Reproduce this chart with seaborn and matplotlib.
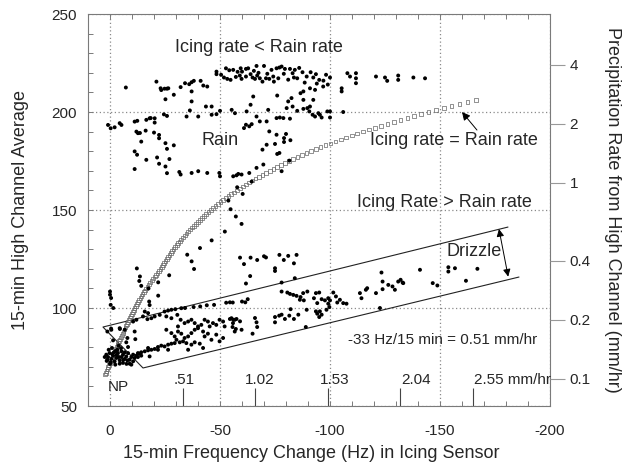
import matplotlib
matplotlib.use("Agg")
import matplotlib.pyplot as plt
import seaborn as sns
import pandas as pd
from matplotlib.ticker import MultipleLocator, FixedLocator, NullLocator

# ---------------- data ----------------
# observed 15-min points (frequency change Hz, high-channel average)
dots_hz = [
    -48.4, -48.4, -52.7, -54.2, -56, -59.4, -60, -61.8, -62.8, -65.4, -66.6, -70, -73.4, -75.7,
    -51.8, -53.3, -54.8, -57.2, -59, -59.8, -61.8, -63.9, -64.8, -65.9, -66.9, -68.1, -69.3, -70.9,
    -72.4, -74.5, -77, -78, -79.5, -81.8, -84, -74.2, -76.5, -83, -83.6, -85.1, -87.5, -89.4, -91.2,
    -92.4, -93.6, -95.1, -96.9, -98.2, -100, -76, -81, -82.5, -83, -80.3, -85.1, -86.6, -87.9, -87.9,
    -90.9, -92.4, -93.2, -90.9, -87.9, -89.7, -90.6, -92.1, -93.2, -94.7, -95.4, -96.2, -98.8, -100,
    -100, -105.3, -105.3, -106, -107.9, -109.1, -111.8, -111.8, -111.8, -120.9, -125, -126, -131, -131,
    -137.9, -143.2, -78.8, -81.8, -75.7, -77.2, -50.5, -58, -67.5, -71.5, -86, -88.5, -97, -79, -81,
    -94, -99,
    -7.2, 0.9, -0.3, -2.1, -4.4, -5.2, -11.2, -12.4, -12, -12.7, -14.2, -11.2, -12.3, -16.5, -11.2,
    -16.2, -16.5, -18, -20.3, -20.3, -20, -22.3, -22.3, -25.2, -25.9, -21.4, -22.3, -25.2, -25.9,
    -24.5, -25.9, -21.1, -23, -23.3, -24.8, -25.9, -25.2, -27, -13.6, -18.5,
    -26.5, -29, -32.1, -34.1, -36, -37.1, -38.1, -41.2, -42.4, -44.2, -37.1, -37.1, -43.6, -46.2,
    -36.3, -34.8, -40.1, -46.2, -48.4, -50, -55.3, -56.8, -62.1, -63.9, -65.1, -71.9, -66.6, -68.1,
    -71.2, -61.8, -60.9, -63.3, -64.4,
    -72.4, -75.7, -80, -79.1, -79.1, -75, -71.2, -69.3, -76, -77, -81.5, -69.7, -78, -82,
    -29, -31.5, -32.1, -37.1, -40.1, -44.2, -49.7, -50, -56, -57.5, -58.3, -59.8, -63.3, -66.6,
    -57.8, -64.4, -60.3, -53.8, -54.8, -57.2, -59.8, -52.2, -46.2, -40.9, -35.1, -37.1, -38.2,
    -26.9, -21.9, -12.2, -13.3, -14.2, -13.6, -17.5, -21.9, -17.8, -18, -15.8, -17.3,
    0, 0, -0.5, -0.3, -1.5,
    -59.1, -60.9, -63.9, -66.9, -70, -70.9, -75, -75, -77, -63.7, -61.8, -79, -81, -83.6, -84.8,
    -78, -84,
    -34.1, -38, -41, -44, -47.3, -52.8, -54.5, -55.8, -60, -61.5, -62.6,
    1.2, -0.6, -4.4, -1.4, -6.7, -10.5, -11.2, -12, -15, -17, -18.8, -20.3, -22.6, -24.8, -26.4,
    -27.9, -29.7, -32.4, -7.9, -7.4, -8.2, -11.5,
    -25.6, -27.9, -30.6, -32.1, -33.9, -35.5, -37, -38.5, -40, -41.5, -43, -44.5, -45.3, -46.8,
    -48.3, -49.8, -51.4, -52.1, -55.2, -55.9, -56.7, -56.7, -27.9, -29.4, -30.9, -32.4, -33.9,
    -35.5, -37, -38.5, -40, -42.3, -43, -44.5, -46.1, -48.3, -49.8, -51.4, -30.9, -25.6,
    -12.7, -14.2, -15.8, -17.3, -18.8, -20.3, -21.8, -23.3, -24.8, -26.4, -27.9, -29.4, -30.2,
    -31.7, -33.2, -34.7, -37, -38.5, -40.8, -42.3, -35.5, -21.8, -26.4, -17.3, -18,
    1.7, 0.9, 0.2, -0.6, -1.4, -2.1, -2.9, -3.6, -4.4, -5.2, -5.9, -6.7, -7.4, -8.2, -8.9, -9.7,
    -10.5, -11.2, 1.2, -0.3, -1.8, -3.3, -3.9, -5.2, -6.7, -7.9, -8.9, -9.7, 0.6, -0.9, -2.4,
    -4.4, -5.9, -10.5, -12, -12.7, -13.5, -14.2, 2.4, 1.5, 0, -1, -3, -4, -6, -2.5, -5, -7.5,
    -0.5, -4.5,
    -78, -80.6, -81.8, -83.3, -84.8, -86.6, -87.8, -89.7, -86.3, -88.1, -93.6, -95.1, -92.7,
    -94.2, -96.2, -97.7, -99.2, -100, -101.5, -102.7, -103.3, -104.5, -106, -107.5, -113.6,
    -114.3, -116.3, -116.9, -120.9, -123.4, -123.9, -123.9, -126.5, -128.4, -129.5, -131,
    -132.1, -133, -133.3,
    -54.5, -56, -57.5, -59.1, -55.7, -57.2, -59.8, -65.9, -66.6, -66.9, -64.8, -75, -75, -76.9,
    -78, -79.5, -81.5, -82.1, -83.6, -85.6, -89, -89.4, -93.6, -94.2, -95.1, -96.2, -95.4, -98.4,
    -99.7, -99.2, -122.7,
    -140.9, -146.7, -148.8, -153.8, -153.8, -156.8, -161.8, -167,
]
dots_h = [
    220.6, 219.3, 222.3, 221.3, 221.5, 222.3, 220.6, 222, 222.3, 221, 223.5, 223.5, 221.5, 222.3,
    217.6, 216.9, 216.4, 217.9, 218.6, 216.9, 218.1, 219.3, 217.6, 216.9, 218.6, 217.2, 215.5, 217.2,
    216.9, 215.5, 222.7, 223.2, 222, 222, 221.5, 218.1, 217.2, 219.8, 217.6, 217.2, 220.3, 218.1, 220.3,
    217.6, 219.3, 216.4, 213, 219, 217.6, 208.4, 205.4, 207.1, 202.8, 202, 200.6, 209.6, 210.5, 206.2,
    212.1, 206.2, 211.3, 202.8, 201.6, 202, 200.3, 198.6, 197.7, 199.4, 198.6, 197.2, 200.3, 200.3,
    197.2, 212.1, 210.5, 200, 219.8, 218.1, 219.8, 217.2, 214.7, 218.1, 217.6, 215.9, 218.6, 216.4,
    217.6, 217.2, 196.9, 196.6, 196.9, 197.2, 219, 220.5, 220, 219.5, 222.5, 215, 216, 219.5, 216.5,
    214.5, 214,
    212.5, 193.4, 191.7, 192.2, 194.3, 193.4, 195.1, 195.5, 190, 189.2, 184.9, 179.9, 178.2, 175.6, 170.9,
    190.5, 196, 196.8, 196.8, 194.6, 189.5, 188.3, 186.6, 184.1, 181.2, 176.8, 173.6, 172.2, 168.8,
    198.8, 198, 215.5, 212.1, 211.2, 211.9, 211.9, 206.5, 176, 189.3, 196.9,
    212.1, 208.8, 212.7, 214.7, 214.2, 215.2, 215.9, 215.9, 213.5, 213, 210.5, 205.4, 202.8, 202.8,
    200.8, 197.7, 197.7, 198.6, 198.9, 200.6, 201.1, 199.4, 200.3, 203.7, 207.9, 201.1, 197.7, 195.2,
    195.2, 193.5, 191.8, 192.7, 193.8,
    190.1, 188.4, 188.8, 186.7, 184.7, 183.7, 183.3, 180.8, 178.6, 179.1, 175.2, 173.2, 169.8, 185.6,
    183, 169.4, 168.1, 168.9, 169.8, 168.9, 168.9, 167.2, 167.2, 167.7, 168.4, 168.1, 168.9, 171.5,
    161.6, 164.5, 158.2, 154.8, 150.4, 146.7, 142.9, 139, 134.5, 130.6, 127.2, 123.8, 119.9,
    116.7, 113.1, 120.2, 113.8, 111.3, 116.1, 110, 106.3, 103.3, 101.5, 98.2, 97.4,
    108.4, 106.8, 105.1, 101.6, 100,
    125.7, 122.4, 125.7, 124.5, 126.4, 125.8, 120.3, 118.9, 127.1, 116.3, 112.5, 124.5, 126.6, 122.8,
    127.1, 113, 115.2,
    100, 100.5, 100.8, 101.4, 101.6, 102.7, 102.9, 102.8, 103.3, 102.9, 104.5,
    88, 88.9, 89.7, 83.5, 88.9, 93.1, 88, 94, 95.7, 94.3, 94.8, 95.7, 96.5, 98.2, 98.7,
    99.1, 99.4, 99.9, 84.7, 82.5, 80.1, 84.1,
    95.7, 94.8, 96.5, 94, 92.3, 93.1, 94, 92.3, 90.6, 91.4, 94, 93.1, 90.6, 92.3,
    91.4, 94, 93.1, 90.6, 94.8, 92.3, 88, 94, 87.2, 85.5, 88, 86.9, 84.7,
    85.5, 87.2, 88.9, 89.7, 88, 85.5, 86.9, 83.8, 86.4, 83, 84.7, 90.6, 88.9,
    77, 77.4, 77.9, 78.4, 78.7, 79.1, 80.1, 80.8, 80.4, 81.3, 81.8, 82.1, 83.8,
    82.5, 83, 82.1, 81.3, 82.5, 81.8, 79.6, 78.7, 78.7, 78.7, 79.6, 75.3,
    76.2, 75, 77, 74, 75.7, 72.8, 74.5, 77, 73.3, 75, 76.2, 74, 75.3, 77, 73.6, 75,
    76.2, 74.5, 73.6, 72.3, 77.4, 78.7, 80.8, 77.9, 77.4, 73.3, 71.6, 71.1, 78.7, 79.6, 71.1,
    71.6, 72, 72.8, 75.7, 75, 76.7, 75.7, 75, 73, 71.5, 76.5, 76, 75, 73.5, 78, 79.5, 71.5,
    89.5, 89.3,
    108.4, 107.9, 107.2, 106.7, 106.2, 105.6, 107.6, 108.4, 104.2, 103.9, 107.6, 107.9, 105,
    102.5, 104.5, 103.9, 105, 103.9, 107.9, 105.9, 102.8, 104.2, 102.5, 102.2, 107.6,
    105, 109.3, 110.1, 107.6, 118.1, 113.5, 109.6, 111.8, 111, 109.3, 113.5,
    114.4, 113, 112.7,
    94.4, 94, 94.4, 93.2, 90.3, 89.3, 88.9, 94.9, 92.7, 90.3, 86.9, 95.4, 92.7, 96.1,
    96.6, 94.4, 96.1, 99.4, 94.4, 96.6, 90.3, 99.1, 98.3, 97.1, 95.4, 96.6, 98.3, 99.1,
    100.5, 102.2, 100,
    119.5, 112.7, 111.5, 120.8, 118.6, 120.3, 113.9, 120,
]

# "Icing rate = Rain rate" curve (open squares)
curve_h = [
    66, 67, 68, 69, 70, 71, 72, 73, 74, 75, 76, 77, 78, 79, 80, 81, 82, 83, 84, 85, 86, 87, 88, 89,
    90, 91, 92, 93, 94, 95, 96, 97, 98, 99, 100, 101, 102, 103, 104, 105, 106, 107, 108, 109, 110,
    111, 112, 113, 114, 115, 116, 117, 118, 119, 120, 121, 122, 123, 124, 125, 126, 127, 128, 129,
    130, 131, 132, 133, 134, 135, 136, 137, 138, 139, 140, 141, 142, 143, 144, 145, 146, 147, 148,
    149, 150, 151, 152, 153, 154, 155, 156, 157, 158, 159, 160, 161, 162, 163, 164, 165, 166, 167,
    168, 169, 170, 171, 172, 173, 174, 175, 176, 177, 178, 179, 180, 181, 182, 183, 184, 185, 186,
    187, 188, 189, 190, 191, 192, 193, 194, 195, 196, 197, 198, 199, 200, 201, 202, 203, 204, 205, 206,
]
curve_hz = [
    2.3, 1.9, 1.6, 1.2, 0.8, 0.4, 0.1, -0.3, -0.7, -1.1, -1.5, -1.8, -2.2, -2.6, -3.0, -3.4, -3.7,
    -4.1, -4.5, -4.9, -5.3, -5.8, -6.2, -6.6, -7.0, -7.4, -7.8, -8.3, -8.7, -9.1, -9.5, -9.9, -10.4,
    -10.8, -11.2, -11.7, -12.2, -12.8, -13.3, -13.8, -14.3, -14.8, -15.4, -15.9, -16.4, -17.0, -17.7,
    -18.3, -19.0, -19.6, -20.3, -21.0, -21.6, -22.3, -23.0, -23.5, -24.0, -24.6, -25.2, -25.8, -26.4,
    -27.0, -27.6, -28.2, -28.9, -29.6, -30.3, -31.0, -31.7, -32.4, -33.2, -34.0, -34.7, -35.6, -36.4,
    -37.2, -38.1, -39.0, -39.9, -40.8, -41.8, -42.7, -43.7, -44.8, -45.8, -46.9, -48.0, -49.1, -50.2,
    -51.4, -52.6, -53.8, -55.1, -56.4, -57.7, -59.0, -60.4, -61.8, -63.2, -64.7, -66.2, -67.8, -69.3,
    -70.9, -72.6, -74.3, -76.0, -77.8, -79.6, -81.5, -83.3, -85.3, -87.3, -89.3, -91.4, -93.5, -95.7,
    -97.9, -100.2, -102.5, -104.9, -107.4, -109.9, -112.4, -115.0, -117.7, -120.5, -123.3, -126.1,
    -129.1, -132.1, -135.2, -138.3, -141.5, -144.8, -148.2, -151.7, -155.2, -158.8, -162.5, -166.3,
]

# drizzle envelope and arrows (data coordinates)
box_hz = [-180.9, 3.2, -15.0, -185.9]
box_h = [141.3, 90.3, 69.4, 115.8]
drizzle_arrow_hz = [-176.8, -181.0]
drizzle_arrow_h = [140.3, 116.0]
equal_arrow_hz = [-166.8, -160.0]
equal_arrow_h = [190.8, 200.0]

# inner icing-rate scale along the bottom
inner_tick_hz = [-33, -66, -99, -132, -165]
inner_labels = [".51", "1.02", "1.53", "2.04", "2.55 mm/hr"]
inner_label_hz = [-33.6, -68.0, -102.0, -139.0, -165.5]

x_ticks = [0, -50, -100, -150, -200]
x_ticklabels = ["0", "-50", "-100", "-150", "-200"]
y_ticks = [50, 100, 150, 200, 250]
rain_ticks = [0.1, 0.2, 0.4, 1, 2, 4]
rain_ticklabels = ["0.1", "0.2", "0.4", "1", "2", "4"]

# ---------------- figure ----------------
sns.set_theme(style="white")
plt.rcParams["font.family"] = ["Liberation Sans", "DejaVu Sans"]

fig = plt.figure(figsize=(6.3, 4.67), dpi=100)
ax = fig.add_axes([0.1397, 0.1306, 0.7333, 0.8394])

grey = "#7a7a7a"
ax.set_xlim(10, -200)
ax.set_ylim(50, 250)

# grid
ax.set_xticks(x_ticks)
ax.set_xticklabels(x_ticklabels)
ax.set_yticks(y_ticks)
ax.grid(True, which="major", linestyle=(0, (1, 2)), color="#8a8a8a", linewidth=0.9)

df_curve = pd.DataFrame({"hz": curve_hz, "h": curve_h})
sns.scatterplot(data=df_curve, x="hz", y="h", ax=ax, marker="s", s=7,
                color="#666666", linewidth=0.5, zorder=3, legend=False)
ax.collections[-1].set_facecolor("none")
ax.collections[-1].set_edgecolor("#666666")

df_dots = pd.DataFrame({"hz": dots_hz, "h": dots_h})
sns.scatterplot(data=df_dots, x="hz", y="h", ax=ax, marker="o", s=8,
                color="black", edgecolor="none", linewidth=0, zorder=4, legend=False)

# drizzle envelope
ax.plot(box_hz, box_h, color="#222222", linewidth=0.8, zorder=2)
ax.annotate("", xy=(drizzle_arrow_hz[0], drizzle_arrow_h[0]),
            xytext=(drizzle_arrow_hz[1], drizzle_arrow_h[1]),
            arrowprops=dict(arrowstyle="<|-|>", color="black", lw=0.7,
                            mutation_scale=11, shrinkA=0, shrinkB=0))
ax.annotate("", xy=(equal_arrow_hz[1], equal_arrow_h[1]),
            xytext=(equal_arrow_hz[0], equal_arrow_h[0]),
            arrowprops=dict(arrowstyle="-|>", color="black", lw=0.7,
                            mutation_scale=12, shrinkA=0, shrinkB=0))

# inner scale
ax.vlines(inner_tick_hz, 50, 59.2, color="#444444", linewidth=0.8)
for hz, lab in zip(inner_label_hz[:-1], inner_labels[:-1]):
    ax.text(hz, 63.3, lab, ha="center", va="center", fontsize=11)
ax.text(inner_label_hz[-1], 63.3, inner_labels[-1], ha="left", va="center", fontsize=11)
ax.text(-3.8, 59.8, "NP", ha="center", va="center", fontsize=11)

# annotations
ax.text(-67.7, 232.7, "Icing rate < Rain rate", ha="center", va="center", fontsize=13)
ax.text(-50, 185.7, "Rain", ha="center", va="center", fontsize=13)
ax.text(-156.5, 185.7, "Icing rate = Rain rate", ha="center", va="center", fontsize=13)
ax.text(-152, 153.6, "Icing Rate > Rain rate", ha="center", va="center", fontsize=13)
ax.text(-165.5, 128.6, "Drizzle", ha="center", va="center", fontsize=13)
ax.text(-151, 83.7, "-33 Hz/15 min = 0.51 mm/hr", ha="center", va="center", fontsize=11)

# ticks / spines
ax.xaxis.set_minor_locator(MultipleLocator(10))
ax.yaxis.set_minor_locator(MultipleLocator(10))
ax.tick_params(which="both", direction="in", top=True, right=True, bottom=True, left=True,
               length=3.5, width=0.7, color=grey)
ax.tick_params(axis="x", which="major", labelsize=11, pad=13)
ax.tick_params(axis="y", which="major", labelsize=11, pad=8)
for sp in ax.spines.values():
    sp.set_color(grey)
    sp.set_linewidth(0.8)

ax.set_xlabel("15-min Frequency Change (Hz) in Icing Sensor", fontsize=13)
ax.set_ylabel("15-min High Channel Average", fontsize=13)
ax.xaxis.set_label_coords(0.484, -0.10)
ax.yaxis.set_label_coords(-0.128, 0.5)

# right-hand rain rate axis (log)
ax2 = ax.twinx()
ax2.set_position(ax.get_position())
ax2.set_yscale("log")
ax2.set_ylim(0.1 * 10 ** ((50 - 64) / 100), 0.1 * 10 ** ((250 - 64) / 100))
ax2.yaxis.set_major_locator(FixedLocator(rain_ticks))
ax2.yaxis.set_minor_locator(NullLocator())
ax2.set_yticklabels(rain_ticklabels)
ax2.tick_params(axis="y", which="major", direction="out", length=11, width=0.8,
                color="#999999", labelsize=11, pad=3)
ax2.grid(False)
for sp in ax2.spines.values():
    sp.set_visible(False)
ax2.set_ylabel("Precipitation Rate from High Channel (mm/hr)", fontsize=13, rotation=270,
               va="bottom")
ax2.yaxis.set_label_coords(1.117, 0.5)

fig.savefig("out.png", dpi=100)
